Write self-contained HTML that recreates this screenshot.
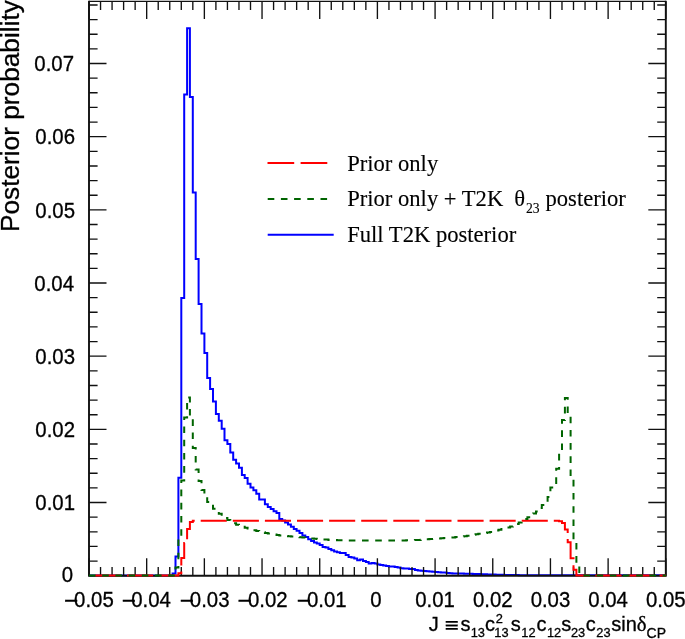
<!DOCTYPE html>
<html><head><meta charset="utf-8"><style>
html,body{margin:0;padding:0;background:#fff;width:685px;height:639px;overflow:hidden}
svg{display:block}
text{fill:#000;stroke:#000;stroke-width:0.3px}
.ax{font-family:"Liberation Sans",Arial,sans-serif;font-size:20.7px}
.yt{font-family:"Liberation Sans",Arial,sans-serif;font-size:26.25px}
.xt{font-family:"Liberation Sans",Arial,sans-serif;font-size:20px}
.xs{font-family:"Liberation Sans",Arial,sans-serif;font-size:12.8px}
.xcp{font-family:"Liberation Sans",Arial,sans-serif;font-size:14px}
.xd{font-family:"Liberation Serif",serif;font-size:20.8px}
.lg{font-family:"Liberation Serif","Times New Roman",serif;font-size:22.6px;stroke-width:0.12px}
.lgs{font-family:"Liberation Serif","Times New Roman",serif;font-size:15.5px;stroke-width:0.12px}
</style></head><body>
<svg width="685" height="639" viewBox="0 0 685 639">
<path d="M89.0 575.5H172.6V573.5H175.5V556.4H178.4V477.8H181.3V298.0H184.2V94.4H187.1V28.2H189.9V96.9H192.8V192.5H195.7V259.0H198.6V304.0H201.5V333.6H204.4V353.0H207.2V378.0H210.1V389.1H213.0V401.6H215.9V413.9H218.8V420.8H221.7V428.7H224.5V440.2H227.4V444.0H230.3V452.5H233.2V459.8H236.1V463.4H239.0V467.8H241.9V474.9H244.7V477.9H247.6V483.7H250.5V487.5H253.4V490.2H256.3V493.7H259.2V499.5H264.9V504.3H267.8V507.1H270.7V508.9H273.6V511.2H276.5V513.0H279.3V518.9H282.2V520.4H285.1V522.4H288.0V524.6H290.9V526.8H293.8V528.9H296.6V530.8H299.5V533.0H302.4V535.5H305.3V537.1H308.2V539.2H311.1V541.1H314.0V542.5H316.8V543.4H319.7V544.9H322.6V547.0H325.5V547.4H328.4V548.9H331.3V550.3H334.1V551.4H337.0V552.2H339.9V552.9H345.7V555.1H348.6V556.9H351.4V557.6H354.3V558.4H357.2V560.2H360.1V559.5H363.0V561.0H365.9V562.0H368.7V563.5H371.6V563.1H374.5V563.5H377.4V564.6H380.3V565.0H383.2V565.5H386.1V565.9H388.9V566.4H391.8V566.6H394.7V566.9H397.6V567.5H400.5V568.2H403.4V568.6H409.1V569.0H412.0V569.1H414.9V570.0H417.8V570.4H420.7V570.8H423.5V571.0H426.4V571.3H429.3V571.5H432.2V571.7H435.1V572.0H438.0V572.2H440.8V572.5H443.7V572.6H446.6V573.0H449.5V573.3H452.4V573.4H455.3V573.4H458.2V573.5H461.0V573.6H463.9V573.7H466.8V573.7H469.7V573.8H472.6V573.9H475.5V574.0H478.3V574.1H481.2V574.2H484.1V574.3H487.0V574.4H489.9V574.5H492.8V574.6H495.6V574.7H498.5V574.7H501.4V574.8H504.3V574.9H507.2V574.9H510.1V575.0H512.9V575.1H515.8V575.1H518.7V575.2H665.8" fill="none" stroke="#0000ff" stroke-width="2"/>
<path d="M89.0 0.85V575.7H665.8V0.85" fill="none" stroke="#111" stroke-width="1.9"/>
<path d="M89.0 1.4H665.8" fill="none" stroke="#111" stroke-width="1.1"/>
<path d="M89.00 575.7v-17.5M89.00 1.5v17.5M100.54 575.7v-8.6M100.54 1.5v8.6M112.07 575.7v-8.6M112.07 1.5v8.6M123.61 575.7v-8.6M123.61 1.5v8.6M135.14 575.7v-8.6M135.14 1.5v8.6M146.68 575.7v-17.5M146.68 1.5v17.5M158.22 575.7v-8.6M158.22 1.5v8.6M169.75 575.7v-8.6M169.75 1.5v8.6M181.29 575.7v-8.6M181.29 1.5v8.6M192.82 575.7v-8.6M192.82 1.5v8.6M204.36 575.7v-17.5M204.36 1.5v17.5M215.90 575.7v-8.6M215.90 1.5v8.6M227.43 575.7v-8.6M227.43 1.5v8.6M238.97 575.7v-8.6M238.97 1.5v8.6M250.50 575.7v-8.6M250.50 1.5v8.6M262.04 575.7v-17.5M262.04 1.5v17.5M273.58 575.7v-8.6M273.58 1.5v8.6M285.11 575.7v-8.6M285.11 1.5v8.6M296.65 575.7v-8.6M296.65 1.5v8.6M308.18 575.7v-8.6M308.18 1.5v8.6M319.72 575.7v-17.5M319.72 1.5v17.5M331.26 575.7v-8.6M331.26 1.5v8.6M342.79 575.7v-8.6M342.79 1.5v8.6M354.33 575.7v-8.6M354.33 1.5v8.6M365.86 575.7v-8.6M365.86 1.5v8.6M377.40 575.7v-17.5M377.40 1.5v17.5M388.94 575.7v-8.6M388.94 1.5v8.6M400.47 575.7v-8.6M400.47 1.5v8.6M412.01 575.7v-8.6M412.01 1.5v8.6M423.54 575.7v-8.6M423.54 1.5v8.6M435.08 575.7v-17.5M435.08 1.5v17.5M446.62 575.7v-8.6M446.62 1.5v8.6M458.15 575.7v-8.6M458.15 1.5v8.6M469.69 575.7v-8.6M469.69 1.5v8.6M481.22 575.7v-8.6M481.22 1.5v8.6M492.76 575.7v-17.5M492.76 1.5v17.5M504.30 575.7v-8.6M504.30 1.5v8.6M515.83 575.7v-8.6M515.83 1.5v8.6M527.37 575.7v-8.6M527.37 1.5v8.6M538.90 575.7v-8.6M538.90 1.5v8.6M550.44 575.7v-17.5M550.44 1.5v17.5M561.98 575.7v-8.6M561.98 1.5v8.6M573.51 575.7v-8.6M573.51 1.5v8.6M585.05 575.7v-8.6M585.05 1.5v8.6M596.58 575.7v-8.6M596.58 1.5v8.6M608.12 575.7v-17.5M608.12 1.5v17.5M619.66 575.7v-8.6M619.66 1.5v8.6M631.19 575.7v-8.6M631.19 1.5v8.6M642.73 575.7v-8.6M642.73 1.5v8.6M654.26 575.7v-8.6M654.26 1.5v8.6M665.80 575.7v-17.5M665.80 1.5v17.5M89.0 561.07h8.6M665.8 561.07h-8.6M89.0 546.43h8.6M665.8 546.43h-8.6M89.0 531.80h8.6M665.8 531.80h-8.6M89.0 517.16h8.6M665.8 517.16h-8.6M89.0 502.53h17.5M665.8 502.53h-17.5M89.0 487.90h8.6M665.8 487.90h-8.6M89.0 473.26h8.6M665.8 473.26h-8.6M89.0 458.63h8.6M665.8 458.63h-8.6M89.0 443.99h8.6M665.8 443.99h-8.6M89.0 429.36h17.5M665.8 429.36h-17.5M89.0 414.73h8.6M665.8 414.73h-8.6M89.0 400.09h8.6M665.8 400.09h-8.6M89.0 385.46h8.6M665.8 385.46h-8.6M89.0 370.82h8.6M665.8 370.82h-8.6M89.0 356.19h17.5M665.8 356.19h-17.5M89.0 341.56h8.6M665.8 341.56h-8.6M89.0 326.92h8.6M665.8 326.92h-8.6M89.0 312.29h8.6M665.8 312.29h-8.6M89.0 297.65h8.6M665.8 297.65h-8.6M89.0 283.02h17.5M665.8 283.02h-17.5M89.0 268.39h8.6M665.8 268.39h-8.6M89.0 253.75h8.6M665.8 253.75h-8.6M89.0 239.12h8.6M665.8 239.12h-8.6M89.0 224.48h8.6M665.8 224.48h-8.6M89.0 209.85h17.5M665.8 209.85h-17.5M89.0 195.22h8.6M665.8 195.22h-8.6M89.0 180.58h8.6M665.8 180.58h-8.6M89.0 165.95h8.6M665.8 165.95h-8.6M89.0 151.31h8.6M665.8 151.31h-8.6M89.0 136.68h17.5M665.8 136.68h-17.5M89.0 122.05h8.6M665.8 122.05h-8.6M89.0 107.41h8.6M665.8 107.41h-8.6M89.0 92.78h8.6M665.8 92.78h-8.6M89.0 78.14h8.6M665.8 78.14h-8.6M89.0 63.51h17.5M665.8 63.51h-17.5M89.0 48.88h8.6M665.8 48.88h-8.6M89.0 34.24h8.6M665.8 34.24h-8.6M89.0 19.61h8.6M665.8 19.61h-8.6M89.0 4.97h8.6M665.8 4.97h-8.6" stroke="#111" stroke-width="1.35" fill="none"/>
<path d="M89.0 575.5H178.4V573.3H181.3V557.9H184.2V543.0H187.1V529.0H189.9V522.0H192.8V520.8H559.1V521.3H562.0V523.1H564.9V529.5H567.7V542.3H570.6V558.2H573.5V569.8H576.4V575.5H665.8" fill="none" stroke="#ff0000" stroke-width="2" stroke-dasharray="26.1 6.0" stroke-dashoffset="26.2"/>
<path d="M89.0 575.5H175.5V567.6H178.4V537.0H181.3V480.5H184.2V417.5H187.1V397.5H189.9V417.0H192.8V448.1H195.7V469.4H198.6V481.0H201.5V490.0H204.4V496.5H207.2V501.9H210.1V503.5H213.0V508.8H215.9V511.5H218.8V513.8H221.7V516.0H224.5V518.0H227.4V519.9H230.3V521.5H233.2V523.2H236.1V524.7H239.0V525.7H241.9V526.8H244.7V527.8H247.6V528.6H250.5V529.4H253.4V530.2H256.3V531.0H259.2V531.7H262.0V532.3H264.9V533.0H267.8V533.6H270.7V534.1H273.6V534.5H276.5V535.0H279.3V535.4H282.2V535.7H285.1V536.0H288.0V536.3H290.9V536.6H293.8V536.8H296.6V537.1H299.5V537.3H302.4V537.6H305.3V537.9H308.2V538.2H311.1V538.4H314.0V538.7H316.8V538.9H319.7V539.1H322.6V539.4H325.5V539.6H328.4V539.9H331.3V540.0H334.1V540.1H337.0V540.2H339.9V540.2H342.8V540.3H345.7V540.4H348.6V540.5H406.2V540.3H409.1V540.2H412.0V540.1H414.9V540.0H417.8V539.9H420.7V539.8H423.5V539.6H426.4V539.3H429.3V539.1H432.2V538.9H435.1V538.7H438.0V538.4H440.8V538.2H443.7V538.0H446.6V537.8H449.5V537.6H452.4V537.4H455.3V537.1H458.2V536.8H461.0V536.5H463.9V536.2H466.8V535.8H469.7V535.3H472.6V534.8H475.5V534.3H478.3V533.8H481.2V533.4H484.1V533.0H487.0V532.5H489.9V532.0H492.8V531.2H495.6V530.5H498.5V529.8H501.4V529.1H504.3V528.3H507.2V527.6H510.1V526.5H512.9V525.2H515.8V524.0H518.7V522.5H521.6V520.8H524.5V519.0H527.4V517.3H530.3V515.4H533.1V513.5H536.0V511.6H538.9V508.0H541.8V505.0H547.6V496.9H550.4V487.5H553.3V484.0H556.2V468.8H559.1V451.0H562.0V420.0H564.9V398.1H567.7V415.0H570.6V478.0H573.5V542.0H576.4V565.5H579.3V575.5H665.8" fill="none" stroke="#006400" stroke-width="2" stroke-dasharray="6.6 6.6" stroke-dashoffset="0"/>
<text transform="translate(73.2,582.40) scale(0.985,1.07)" text-anchor="end" class="ax">0</text>
<text transform="translate(75.0,510.33) scale(0.985,1.07)" text-anchor="end" class="ax">0.01</text>
<text transform="translate(75.0,437.16) scale(0.985,1.07)" text-anchor="end" class="ax">0.02</text>
<text transform="translate(75.0,363.99) scale(0.985,1.07)" text-anchor="end" class="ax">0.03</text>
<text transform="translate(74.0,290.82) scale(0.985,1.07)" text-anchor="end" class="ax">0.04</text>
<text transform="translate(75.0,217.65) scale(0.985,1.07)" text-anchor="end" class="ax">0.05</text>
<text transform="translate(75.0,144.48) scale(0.985,1.07)" text-anchor="end" class="ax">0.06</text>
<text transform="translate(74.0,71.31) scale(0.985,1.07)" text-anchor="end" class="ax">0.07</text>
<text transform="translate(93.90,606.5) scale(0.985,1.07)" text-anchor="middle" class="ax">0.05</text>
<text transform="translate(63.88,607.8) scale(1.182,1.07)" class="ax">−</text>
<text transform="translate(150.98,606.5) scale(0.985,1.07)" text-anchor="middle" class="ax">0.04</text>
<text transform="translate(121.76,607.8) scale(1.182,1.07)" class="ax">−</text>
<text transform="translate(209.66,606.5) scale(0.985,1.07)" text-anchor="middle" class="ax">0.03</text>
<text transform="translate(179.64,607.8) scale(1.182,1.07)" class="ax">−</text>
<text transform="translate(267.84,606.5) scale(0.985,1.07)" text-anchor="middle" class="ax">0.02</text>
<text transform="translate(237.52,607.8) scale(1.182,1.07)" class="ax">−</text>
<text transform="translate(326.82,606.5) scale(0.985,1.07)" text-anchor="middle" class="ax">0.01</text>
<text transform="translate(296.70,607.8) scale(1.182,1.07)" class="ax">−</text>
<text transform="translate(375.80,606.5) scale(0.985,1.07)" text-anchor="middle" class="ax">0</text>
<text transform="translate(435.08,606.5) scale(0.985,1.07)" text-anchor="middle" class="ax">0.01</text>
<text transform="translate(492.76,606.5) scale(0.985,1.07)" text-anchor="middle" class="ax">0.02</text>
<text transform="translate(550.44,606.5) scale(0.985,1.07)" text-anchor="middle" class="ax">0.03</text>
<text transform="translate(608.12,606.5) scale(0.985,1.07)" text-anchor="middle" class="ax">0.04</text>
<text transform="translate(665.80,606.5) scale(0.985,1.07)" text-anchor="middle" class="ax">0.05</text>
<text transform="translate(18.5,232.1) rotate(-90)" class="yt">Posterior probability</text>
<text x="428.8" y="631.3" class="xt">J</text>
<text x="460.6" y="631.3" class="xt">s</text>
<text x="470.7" y="637.0" class="xs">13</text>
<text x="484.9" y="631.3" class="xt">c</text>
<text x="495.7" y="622.6" class="xs">2</text>
<text x="494.3" y="637.0" class="xs">13</text>
<text x="510.8" y="631.3" class="xt">s</text>
<text x="521.3" y="637.0" class="xs">12</text>
<text x="536.4" y="631.3" class="xt">c</text>
<text x="546.9" y="637.0" class="xs">12</text>
<text x="561.2" y="631.3" class="xt">s</text>
<text x="571.0" y="637.0" class="xs">23</text>
<text x="585.7" y="631.3" class="xt">c</text>
<text x="596.3" y="637.0" class="xs">23</text>
<text x="611.3" y="631.3" class="xt">sin</text>
<text transform="translate(444.8,631.6) scale(1.2,1)" class="xt">≡</text>
<text x="636.8" y="631.3" class="xd">δ</text>
<text x="646.6" y="638.3" class="xcp">CP</text>
<path d="M267.5 162.9h66" stroke="#ff0000" stroke-width="2" stroke-dasharray="26.7 6.4"/>
<path d="M267.7 199h66" stroke="#006400" stroke-width="2" stroke-dasharray="6.6 6.6"/>
<path d="M267.7 234.8h66" stroke="#0000ff" stroke-width="2"/>
<text x="347.2" y="170.7" class="lg">Prior only</text>
<text x="347.2" y="206" class="lg">Prior only + T2K</text>
<text x="514.3" y="206" class="lg">θ</text>
<text transform="translate(525.9,213) scale(0.88,1)" class="lgs">23</text>
<text x="545.5" y="206" class="lg">posterior</text>
<text x="347.2" y="241.9" class="lg">Full T2K posterior</text>
</svg>
</body></html>
